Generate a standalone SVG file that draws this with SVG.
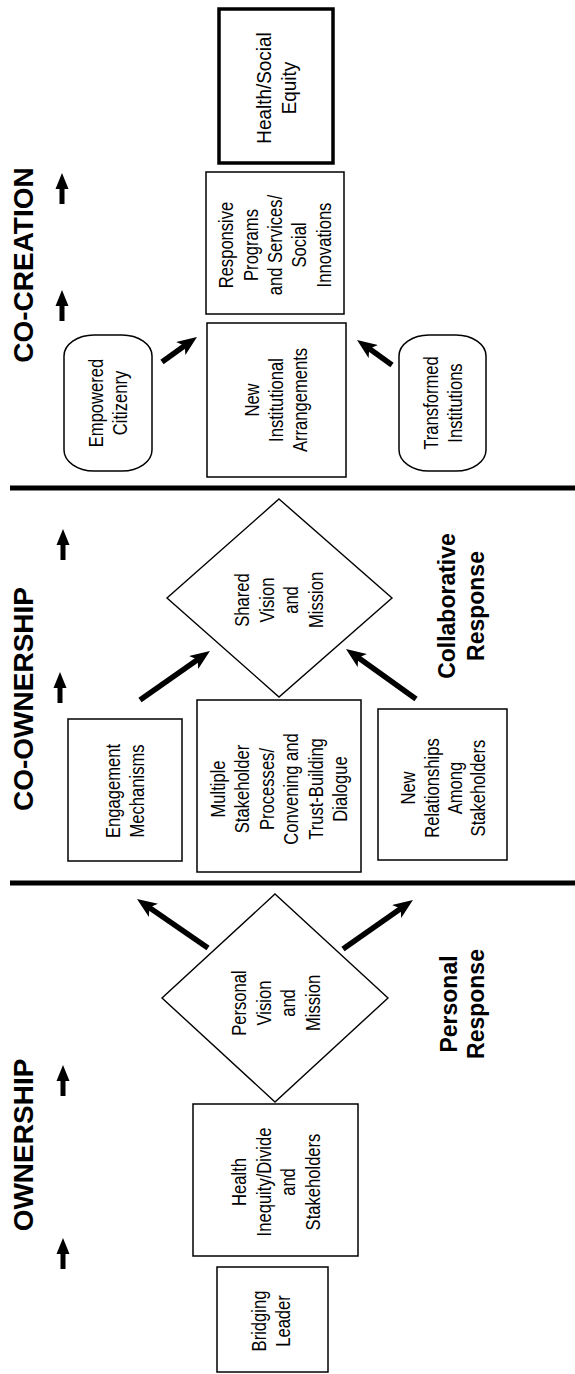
<svg xmlns="http://www.w3.org/2000/svg" xmlns:xlink="http://www.w3.org/1999/xlink" width="575" height="1374" viewBox="0 0 575 1374">
  <style>
    .box { fill: #ffffff; stroke: #000000; stroke-width: 1.5; }
    .thick { fill: #ffffff; stroke: #000000; stroke-width: 3.5; }
    .dia { fill: #ffffff; stroke: #000000; stroke-width: 1.4; }
    .lbl { font-family: "Liberation Sans", Arial, sans-serif; font-size: 20px; fill: #000000; text-anchor: middle; }
    .big { font-family: "Liberation Sans", Arial, sans-serif; font-size: 21px; fill: #000000; text-anchor: middle; }
    .head { font-family: "Liberation Sans", Arial, sans-serif; font-size: 28px; font-weight: bold; fill: #000000; text-anchor: middle; }
    .sub { font-family: "Liberation Sans", Arial, sans-serif; font-size: 23px; font-weight: bold; fill: #000000; text-anchor: middle; }
    .sep { stroke: #000000; stroke-width: 5; }
    .flow { stroke: #000000; stroke-width: 5.5; fill: none; marker-end: url(#tip); }
  </style>
  <defs>
    <marker id="tip" markerUnits="userSpaceOnUse" viewBox="0 0 20 16" markerWidth="20" markerHeight="16" refX="6" refY="8" orient="auto">
      <path d="M0,0 L20,8 L0,16 L5,8 Z" fill="#000000"/>
    </marker>
    <path id="up" d="M0,0 L6.5,16 L2.5,16 L2.5,31 L-2.5,31 L-2.5,16 L-6.5,16 Z" fill="#000000"/>
  </defs>

  <rect width="575" height="1374" fill="#ffffff"/>

  <!-- section dividers -->
  <g id="dividers">
    <line class="sep" x1="10" y1="488" x2="575" y2="488"/>
    <line class="sep" x1="10" y1="883" x2="575" y2="883"/>
  </g>

  <!-- stage headings and response labels -->
  <g id="headings">
    <text class="head" transform="translate(33,265) rotate(-90)">CO-CREATION</text>
    <text class="head" transform="translate(33,699) rotate(-90)">CO-OWNERSHIP</text>
    <text class="head" transform="translate(33,1145) rotate(-90)">OWNERSHIP</text>
    <text class="sub" transform="translate(0,606) rotate(-90)"><tspan x="0" y="455">Collaborative</tspan><tspan x="0" y="483.5">Response</tspan></text>
    <text class="sub" transform="translate(0,1004) rotate(-90)"><tspan x="0" y="457">Personal</tspan><tspan x="0" y="483.5">Response</tspan></text>
  </g>

  <!-- connectors -->
  <g id="connectors">
    <use xlink:href="#up" href="#up" x="62" y="173"/>
    <use xlink:href="#up" href="#up" x="62" y="290"/>
    <use xlink:href="#up" href="#up" x="63" y="529"/>
    <use xlink:href="#up" href="#up" x="60" y="672"/>
    <use xlink:href="#up" href="#up" x="63" y="1065"/>
    <use xlink:href="#up" href="#up" x="63" y="1238"/>
    <line class="flow" x1="208" y1="948" x2="148.5" y2="907"/>
    <line class="flow" x1="343" y1="949" x2="401.5" y2="908"/>
    <line class="flow" x1="140" y1="700" x2="198.5" y2="659"/>
    <line class="flow" x1="416" y1="699" x2="357.4" y2="657.1"/>
    <line class="flow" x1="162" y1="362" x2="185.6" y2="345.1"/>
    <line class="flow" x1="392" y1="365" x2="368.4" y2="348.1"/>
  </g>

  <!-- nodes -->
  <g id="health-social-equity">
    <rect class="thick" x="219" y="9" width="114" height="154"/>
    <text class="big" transform="translate(276,88) rotate(-90) scale(0.9,1)"><tspan x="0" y="-5">Health/Social</tspan><tspan x="0" y="20">Equity</tspan></text>
  </g>
  <g id="responsive-programs">
    <rect class="box" x="206" y="172" width="138" height="142"/>
    <text class="lbl" transform="translate(275,245) rotate(-90) scale(0.83,1)"><tspan x="0" y="-42">Responsive</tspan><tspan x="0" y="-17.5">Programs</tspan><tspan x="0" y="7">and Services/</tspan><tspan x="0" y="31.5">Social</tspan><tspan x="0" y="56">Innovations</tspan></text>
  </g>
  <g id="empowered-citizenry">
    <rect class="box" x="64" y="335" width="88" height="136" rx="30" ry="21"/>
    <text class="lbl" transform="translate(108,403) rotate(-90) scale(0.83,1)"><tspan x="0" y="-5.25">Empowered</tspan><tspan x="0" y="19.25">Citizenry</tspan></text>
  </g>
  <g id="new-institutional-arrangements">
    <rect class="box" x="207" y="323" width="139" height="154"/>
    <text class="lbl" transform="translate(276,400) rotate(-90) scale(0.83,1)"><tspan x="0" y="-17.5">New</tspan><tspan x="0" y="7">Institutional</tspan><tspan x="0" y="31.5">Arrangements</tspan></text>
  </g>
  <g id="transformed-institutions">
    <rect class="box" x="399" y="335" width="87" height="136" rx="30" ry="21"/>
    <text class="lbl" transform="translate(443,403) rotate(-90) scale(0.83,1)"><tspan x="0" y="-5.25">Transformed</tspan><tspan x="0" y="19.25">Institutions</tspan></text>
  </g>
  <g id="shared-vision">
    <polygon class="dia" points="279,499 392,598 279,697 167,598"/>
    <text class="lbl" transform="translate(279,600) rotate(-90) scale(0.83,1)"><tspan x="0" y="-29.75">Shared</tspan><tspan x="0" y="-5.25">Vision</tspan><tspan x="0" y="19.25">and</tspan><tspan x="0" y="43.75">Mission</tspan></text>
  </g>
  <g id="engagement-mechanisms">
    <rect class="box" x="68" y="719" width="114" height="142"/>
    <text class="lbl" transform="translate(125,791) rotate(-90) scale(0.83,1)"><tspan x="0" y="-5.25">Engagement</tspan><tspan x="0" y="19.25">Mechanisms</tspan></text>
  </g>
  <g id="multiple-stakeholder-processes">
    <rect class="box" x="197" y="700" width="164" height="172"/>
    <text class="lbl" transform="translate(279,789) rotate(-90) scale(0.83,1)"><tspan x="0" y="-54.25">Multiple</tspan><tspan x="0" y="-29.75">Stakeholder</tspan><tspan x="0" y="-5.25">Processes/</tspan><tspan x="0" y="19.25">Convening and</tspan><tspan x="0" y="43.75">Trust-Building</tspan><tspan x="0" y="68.25">Dialogue</tspan></text>
  </g>
  <g id="new-relationships">
    <rect class="box" x="378" y="709" width="129" height="151"/>
    <text class="lbl" transform="translate(443,788) rotate(-90) scale(0.83,1)"><tspan x="0" y="-28">New</tspan><tspan x="0" y="-4.5">Relationships</tspan><tspan x="0" y="19">Among</tspan><tspan x="0" y="42.5">Stakeholders</tspan></text>
  </g>
  <g id="personal-vision">
    <polygon class="dia" points="275,894 388,998 275,1102 162,998"/>
    <text class="lbl" transform="translate(276,1003) rotate(-90) scale(0.83,1)"><tspan x="0" y="-29.75">Personal</tspan><tspan x="0" y="-5.25">Vision</tspan><tspan x="0" y="19.25">and</tspan><tspan x="0" y="43.75">Mission</tspan></text>
  </g>
  <g id="health-inequity">
    <rect class="box" x="193" y="1104" width="165" height="152"/>
    <text class="lbl" transform="translate(276,1182) rotate(-90) scale(0.83,1)"><tspan x="0" y="-29.75">Health</tspan><tspan x="0" y="-5.25">Inequity/Divide</tspan><tspan x="0" y="19.25">and</tspan><tspan x="0" y="43.75">Stakeholders</tspan></text>
  </g>
  <g id="bridging-leader">
    <rect class="box" x="217" y="1267" width="111" height="105"/>
    <text class="lbl" transform="translate(271,1321) rotate(-90) scale(0.83,1)"><tspan x="0" y="-5.25">Bridging</tspan><tspan x="0" y="19.25">Leader</tspan></text>
  </g>
</svg>
